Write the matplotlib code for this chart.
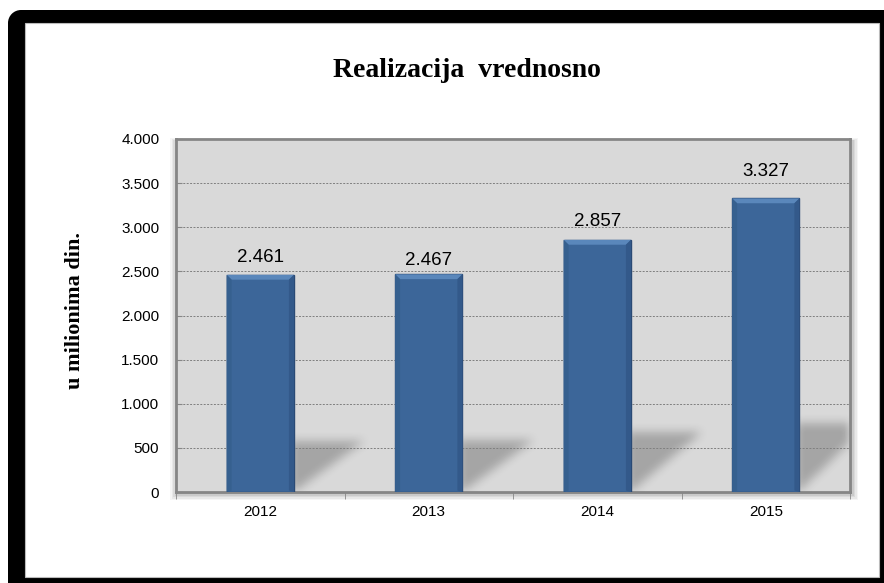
import matplotlib.pyplot as plt
from matplotlib.patches import Rectangle, Polygon, Circle
from matplotlib.transforms import IdentityTransform
import numpy as np

years = ['2012', '2013', '2014', '2015']
values = [2461, 2467, 2857, 3327]
value_labels = ['2.461', '2.467', '2.857', '3.327']
yticks = [0, 500, 1000, 1500, 2000, 2500, 3000, 3500, 4000]
ytick_labels = ['0', '500', '1.000', '1.500', '2.000', '2.500', '3.000', '3.500', '4.000']

W, H = 884, 583
fig = plt.figure(figsize=(W / 100, H / 100), dpi=100)
fig.patch.set_facecolor('white')


def fx(px):
    return px / W


def fy(py):
    return 1 - py / H


def box_blur(img, r, axis):
    k = np.ones(2 * r + 1) / (2 * r + 1)
    return np.apply_along_axis(lambda m: np.convolve(m, k, mode='same'), axis, img)


# black frame (pixel coords, origin bottom-left), rounded only at top-left
pix = IdentityTransform()
r = 13
for p in [Rectangle((8 + r, 0), W, H - 10, transform=pix),
          Rectangle((8, 0), W, H - 10 - r, transform=pix),
          Circle((8 + r, H - 10 - r), r, transform=pix)]:
    p.set_facecolor('black')
    p.set_edgecolor('none')
    p.set_zorder(0)
    fig.patches.append(p)
inner = Rectangle((fx(25), fy(577)), fx(879) - fx(25), fy(23) - fy(577),
                  transform=fig.transFigure, facecolor='white',
                  edgecolor='#bbbbbb', lw=0.8, zorder=1)
fig.patches.append(inner)

# plot area + soft shadow
ax_l, ax_r, ax_t, ax_b = 176, 850, 139, 492
for i, a in enumerate([0.04, 0.05, 0.06, 0.07, 0.08]):
    off = 8 - i * 1.5
    sh = Rectangle((fx(ax_l - off + 2), fy(ax_b + off)),
                   fx(ax_r + off) - fx(ax_l - off + 2), fy(ax_t - off / 2 + 3) - fy(ax_b + off),
                   transform=fig.transFigure, facecolor='black', alpha=a,
                   edgecolor='none', zorder=2)
    fig.patches.append(sh)

ax = fig.add_axes([fx(ax_l), fy(ax_b), fx(ax_r) - fx(ax_l), fy(ax_t) - fy(ax_b)])
ax.set_facecolor('#d9d9d9')
ax.set_zorder(3)

x = np.arange(len(years))
bw = 0.4

# blurred floor shadows behind the bars
nx_, ny_ = ax_r - ax_l, ax_b - ax_t
gx = np.linspace(-0.5, len(years) - 0.5, nx_)
gy = np.linspace(0, 4000, ny_)
PX, PY = np.meshgrid(gx, gy)
mask = np.zeros_like(PX)
for xi, v in zip(x, values):
    x1 = xi + bw / 2
    h = v * 0.235
    w = bw * 1.05
    inside = (PX >= x1 - 0.02) & (PY <= h) & (PY >= (PX - x1) / w * h)
    mask[inside] = 1.0
for _ in range(2):
    mask = box_blur(mask, 5, 0)
    mask = box_blur(mask, 5, 1)
rgba = np.zeros(mask.shape + (4,))
rgba[..., 3] = mask * 0.24
ax.imshow(rgba, extent=(gx[0], gx[-1], 0, 4000), origin='lower',
          aspect='auto', zorder=0.2, interpolation='bilinear')
ax.set_xlim(-0.5, len(years) - 0.5)
ax.set_ylim(0, 4000)

ax.yaxis.grid(True, color='#7f7f7f', linestyle=(0, (2, 1.5)), linewidth=0.7, zorder=0.5)
ax.set_axisbelow(True)

bars = ax.bar(x, values, width=bw, color='#3c6699', edgecolor='#2a4a75',
              linewidth=1.0, zorder=3)

# bevel on bars
bev = 55
for xi, v in zip(x, values):
    x0, x1 = xi - bw / 2, xi + bw / 2
    d = 0.03
    top = Polygon([(x0, v), (x1, v), (x1 - d, v - bev), (x0 + d, v - bev)],
                  closed=True, facecolor='#5a87bb', edgecolor='none', zorder=4)
    ax.add_patch(top)
    left = Polygon([(x0, v), (x0 + d, v - bev), (x0 + d, bev * 0.3), (x0, 0)],
                   closed=True, facecolor='#36608f', edgecolor='none', zorder=4)
    ax.add_patch(left)
    right = Polygon([(x1, v), (x1 - d, v - bev), (x1 - d, bev * 0.3), (x1, 0)],
                    closed=True, facecolor='#33598a', edgecolor='none', zorder=4)
    ax.add_patch(right)

# labels sit just above the gridlines, as in the original
label_gap = [9, 7, 10, 16]  # points above bar top
for xi, v, lab, g in zip(x, values, value_labels, label_gap):
    ax.annotate(lab, (xi, v), xytext=(0, g), textcoords='offset points',
                ha='center', va='baseline', fontsize=13.5,
                family='Liberation Sans', color='black', zorder=5)

ax.set_yticks(yticks)
ax.set_yticklabels(ytick_labels, family='Liberation Sans', fontsize=11)
ax.set_xticks(x)
ax.set_xticklabels(years, family='Liberation Sans', fontsize=11)
ax.set_xticks(np.arange(len(years) + 1) - 0.5, minor=True)
ax.tick_params(axis='x', which='major', length=0, pad=9)
ax.tick_params(axis='x', which='minor', length=5, color='#868686', direction='out')
ax.tick_params(axis='y', length=4, color='#868686', direction='in', pad=12)

for s in ax.spines.values():
    s.set_color('#868686')
    s.set_linewidth(2)

fig.text(fx(467), fy(77), 'Realizacija  vrednosno', ha='center', va='baseline',
         fontsize=20, fontweight='bold', family='Liberation Serif')
fig.text(fx(75), fy(310), 'u milionima din.', ha='center', va='center',
         rotation=90, fontsize=16, fontweight='bold', family='Liberation Serif')

fig.savefig('out.png', dpi=100)
